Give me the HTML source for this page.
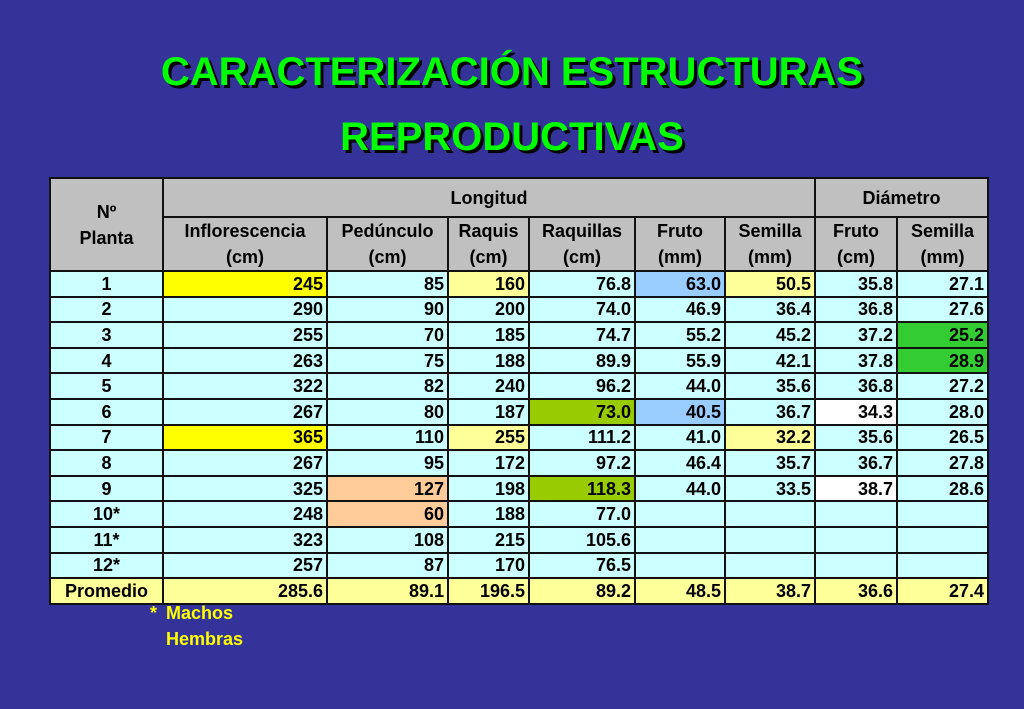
<!DOCTYPE html>
<html><head><meta charset="utf-8"><style>
body{margin:0;width:1024px;height:709px;background:#333399;overflow:hidden;font-family:"Liberation Sans",Arial,sans-serif;position:relative}
.t{position:absolute;left:0;width:1024px;text-align:center;font-weight:bold;font-size:40px;line-height:46px;color:#00ff00;text-shadow:3px 3px 0 #000}
table{position:absolute;left:49px;top:177px;border-collapse:collapse;table-layout:fixed;font-weight:bold;font-size:18px;color:#000}
td{border:2px solid #111;padding:0 3px;text-align:right;background:#ccffff;height:21.6px;line-height:20px;overflow:hidden;white-space:nowrap}
tr.d{height:25.6px}
th{border:2px solid #111;background:#c0c0c0;font-weight:bold;line-height:26px;padding:0}
td.c{text-align:center}
.y{background:#ffff00}.ly{background:#ffff99}.b{background:#99ccff}.g{background:#99cc00}.gg{background:#33cc33}.o{background:#ffcc99}.w{background:#fff}
tr.p td{background:#ffff99}
.n{position:absolute;color:#ffff00;font-weight:bold;font-size:18px}
</style></head><body>
<div class="t" style="top:49px">CARACTERIZACIÓN ESTRUCTURAS</div>
<div class="t" style="top:114px">REPRODUCTIVAS</div>
<table>
<colgroup><col style="width:113px"><col style="width:164px"><col style="width:121px"><col style="width:81px"><col style="width:106px"><col style="width:90px"><col style="width:90px"><col style="width:82px"><col style="width:91px"></colgroup>
<tr style="height:39px"><th rowspan="2">Nº<br>Planta</th><th colspan="6">Longitud</th><th colspan="2">Diámetro</th></tr>
<tr style="height:54px"><th>Inflorescencia<br>(cm)</th><th>Pedúnculo<br>(cm)</th><th>Raquis<br>(cm)</th><th>Raquillas<br>(cm)</th><th>Fruto<br>(mm)</th><th>Semilla<br>(mm)</th><th>Fruto<br>(cm)</th><th>Semilla<br>(mm)</th></tr>
<tr class="d"><td class="c">1</td><td class="y">245</td><td>85</td><td class="ly">160</td><td>76.8</td><td class="b">63.0</td><td class="ly">50.5</td><td>35.8</td><td>27.1</td></tr>
<tr class="d"><td class="c">2</td><td>290</td><td>90</td><td>200</td><td>74.0</td><td>46.9</td><td>36.4</td><td>36.8</td><td>27.6</td></tr>
<tr class="d"><td class="c">3</td><td>255</td><td>70</td><td>185</td><td>74.7</td><td>55.2</td><td>45.2</td><td>37.2</td><td class="gg">25.2</td></tr>
<tr class="d"><td class="c">4</td><td>263</td><td>75</td><td>188</td><td>89.9</td><td>55.9</td><td>42.1</td><td>37.8</td><td class="gg">28.9</td></tr>
<tr class="d"><td class="c">5</td><td>322</td><td>82</td><td>240</td><td>96.2</td><td>44.0</td><td>35.6</td><td>36.8</td><td>27.2</td></tr>
<tr class="d"><td class="c">6</td><td>267</td><td>80</td><td>187</td><td class="g">73.0</td><td class="b">40.5</td><td>36.7</td><td class="w">34.3</td><td>28.0</td></tr>
<tr class="d"><td class="c">7</td><td class="y">365</td><td>110</td><td class="ly">255</td><td>111.2</td><td>41.0</td><td class="ly">32.2</td><td>35.6</td><td>26.5</td></tr>
<tr class="d"><td class="c">8</td><td>267</td><td>95</td><td>172</td><td>97.2</td><td>46.4</td><td>35.7</td><td>36.7</td><td>27.8</td></tr>
<tr class="d"><td class="c">9</td><td>325</td><td class="o">127</td><td>198</td><td class="g">118.3</td><td>44.0</td><td>33.5</td><td class="w">38.7</td><td>28.6</td></tr>
<tr class="d"><td class="c">10*</td><td>248</td><td class="o">60</td><td>188</td><td>77.0</td><td></td><td></td><td></td><td></td></tr>
<tr class="d"><td class="c">11*</td><td>323</td><td>108</td><td>215</td><td>105.6</td><td></td><td></td><td></td><td></td></tr>
<tr class="d"><td class="c">12*</td><td>257</td><td>87</td><td>170</td><td>76.5</td><td></td><td></td><td></td><td></td></tr>
<tr class="d p"><td class="c">Promedio</td><td>285.6</td><td>89.1</td><td>196.5</td><td>89.2</td><td>48.5</td><td>38.7</td><td>36.6</td><td>27.4</td></tr>
</table>
<div class="n" style="left:150px;top:603px">*</div>
<div class="n" style="left:166px;top:603px">Machos</div>
<div class="n" style="left:166px;top:629px">Hembras</div>
</body></html>
